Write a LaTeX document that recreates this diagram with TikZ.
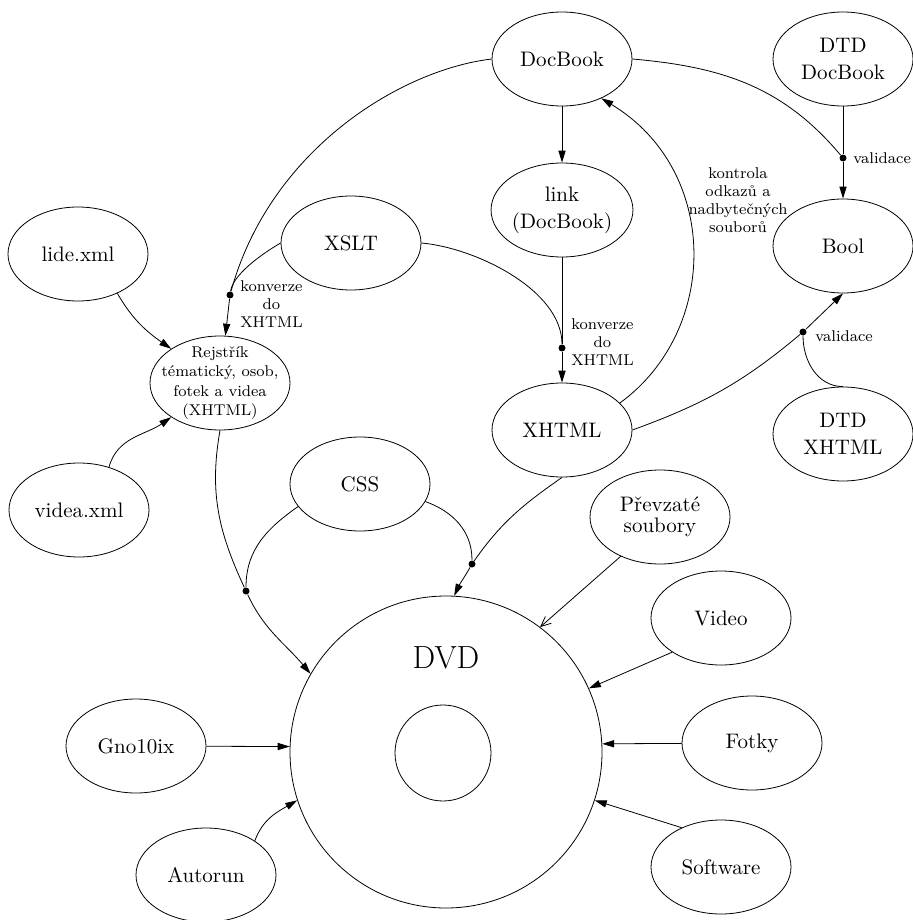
\documentclass[tikz,border=0pt]{standalone}
\usepackage{tikz}
\usetikzlibrary{shapes.geometric,arrows.meta,positioning}

\newcommand{\nodefont}{\fontsize{10.5}{13.5}\selectfont}
\newcommand{\lblfont}{\fontsize{7.8}{9}\selectfont}
\newcommand{\dvdfont}{\fontsize{16}{19}\selectfont}

\begin{document}
\begin{tikzpicture}[
    x=0.5pt, y=-0.5pt,
    ell/.style={ellipse, draw, minimum width=70pt, minimum height=47pt,
                inner sep=0pt, align=center, font=\nodefont},
    junction/.style={circle, fill, inner sep=0pt, minimum size=3.5pt},
    lbl/.style={font=\lblfont, align=center, inner sep=1pt},
    rejtext/.style={font=\fontsize{7.8}{9.6}\selectfont, align=center, inner sep=0pt},
    arrow/.style={-{Triangle[length=6pt, width=3.6pt]}},
    openarrow/.style={-{Straight Barb[length=5pt, width=4.5pt]}},
]
    \useasboundingbox (0,0) rectangle (913,920);
    % sources
    \node[ell] (docbook) at (562,59) {DocBook};
    \node[ell] (dtddb) at (843,59) {DTD\\DocBook};
    \node[ell] (link) at (562,210) {link\\(DocBook)};
    \node[ell] (xslt) at (351,243) {XSLT};
    \node[ell] (lide) at (78,254) {lide.xml};
    \node[ell] (bool) at (843,246) {Bool};
    \node[ell, label={[rejtext]center:{Rejstřík\\tématický, osob,\\fotek a videa\\(XHTML)}}]
         (rej) at (220,383) {};
    \node[ell] (xhtml) at (562,430) {XHTML};
    \node[ell] (dtdx) at (843,434) {DTD\\XHTML};
    \node[ell] (videa) at (79,510) {videa.xml};
    \node[ell] (css) at (360,484) {CSS};
    \node[ell, font=\fontsize{10.5}{10.5}\selectfont] (prevz) at (660,517) {Převzaté\\soubory};
    \node[ell] (video) at (721,618) {Video};
    \node[ell] (fotky) at (752,743) {Fotky};
    \node[ell] (gno) at (136,746) {Gno10ix};
    \node[ell] (soft) at (721,867) {Software};
    \node[ell] (autorun) at (206,875) {Autorun};
    % the disc
    \node[circle, draw, minimum size=156pt,
          label={[font=\dvdfont, yshift=47pt]center:DVD}] (dvd) at (446,752) {};
    \node[circle, draw, minimum size=48pt] (hole) at (443,753) {};
    % junctions
    \node[junction] (j1) at (230,295) {};
    \node[junction] (j2) at (562,348) {};
    \node[junction] (j3) at (843,158) {};
    \node[junction] (j4) at (803,332) {};
    \node[junction] (j5) at (246,591) {};
    \node[junction] (j6) at (472,564) {};
    \node[lbl, right=2pt of j1, yshift=-4.5pt] (konv1) {konverze\\do\\XHTML};
    \node[lbl, right=1.5pt of j2, yshift=3pt] (konv2) {konverze\\do\\XHTML};
    \node[lbl] (kontrola) at (738,200) {kontrola\\odkazů a\\nadbytečných\\souborů};
    \node[lbl, right=2pt of j3] (valid1) {validace};
    \node[lbl, right=3pt of j4, yshift=-2pt] (valid2) {validace};
    % edges
    \draw[arrow] (docbook) -- (link);
    \draw (docbook.west) .. controls (400,70) and (270,150) .. (j1);
    \draw (xslt.west) .. controls (260,255) and (233,275) .. (j1);
    \draw[arrow] (j1) -- (rej);
    \draw[arrow] (lide.-45) to[out=-60, in=145] (rej);
    \draw[arrow] (videa.55) to[out=75, in=215] (rej);
    \draw (link) -- (j2);
    \draw[arrow] (j2) -- (xhtml);
    \draw (xslt.east) to[out=-5, in=90, looseness=0.8] (j2);
    \draw[arrow] (xhtml.25) .. controls (720,330) and (720,170) .. (docbook.-45);
    \draw (docbook.east) to[out=-5, in=130] (j3);
    \draw (dtddb) -- (j3);
    \draw[arrow] (j3) -- (bool);
    \draw (xhtml.east) to[out=20, in=220] (j4);
    \draw (dtdx.north) to[out=180, in=-90] (j4);
    \draw[arrow] (j4) -- (bool.south);
    \draw (rej.south) to[out=-100, in=115] (j5);
    \draw (css.200) to[out=215, in=90] (j5);
    \draw[arrow] (j5) to[out=-65, in=130] (dvd.150);
    \draw (css.-15) to[out=-20, in=90] (j6);
    \draw (xhtml.south) to[out=215, in=55] (j6);
    \draw[arrow] (j6) to[out=240, in=65] (dvd.87);
    \draw[openarrow] (prevz.225) -- (dvd.53);
    \draw[arrow] (video.215) -- (dvd.24);
    \draw[arrow] (fotky) -- (dvd.3);
    \draw[arrow] (soft.135) -- (dvd.-18);
    \draw[arrow] (gno) -- (dvd.178);
    \draw[arrow] (autorun.35) to[out=70, in=210] (dvd.198);
\end{tikzpicture}
\end{document}
